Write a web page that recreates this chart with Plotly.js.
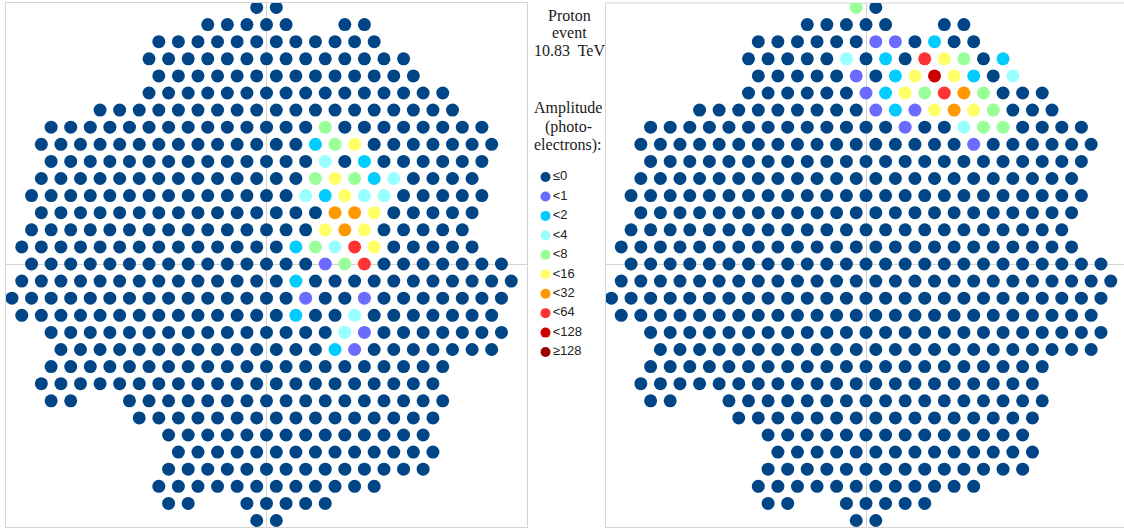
<!DOCTYPE html>
<html><head><meta charset="utf-8">
<script src="https://cdn.plot.ly/plotly-3.0.1.min.js"></script>
<style>html,body{margin:0;padding:0;background:#fff}</style>
</head><body><div id="chart" style="width:1124px;height:532px"></div>
<script>
// Camera layout: row y-index (top to bottom) and column segments (half-pixel units)
const rowY = [15,14,13,12,11,10,9,8,7,6,5,4,3,2,1,0,-1,-2,-3,-4,-5,-6,-7,-8,-9,-10,-11,-12,-13,-14,-15];
const rowSegments = [
  [[-1,1]],
  [[-6,2],[8,10]],
  [[-11,11]],
  [[-12,14]],
  [[-11,15]],
  [[-12,18]],
  [[-17,19]],
  [[-22,22]],
  [[-23,23]],
  [[-22,22]],
  [[-23,21]],
  [[-24,22]],
  [[-23,21]],
  [[-24,20]],
  [[-25,21]],
  [[-24,24]],
  [[-25,25]],
  [[-26,24]],
  [[-25,23]],
  [[-22,24]],
  [[-21,23]],
  [[-22,18]],
  [[-23,17]],
  [[-22,-20],[-14,18]],
  [[-13,17]],
  [[-10,16]],
  [[-9,17]],
  [[-10,16]],
  [[-11,11]],
  [[-10,-8],[-2,6]],
  [[-1,1]]
];

// Amplitude classes
const classLabels = ["\u22640","<1","<2","<4","<8","<16","<32","<64","<128","\u2265128"];
const classColors = ["#004687","#6b6bff","#00ccff","#99ffff","#99ff99","#ffff66","#ff9900","#ff3333","#cc0000","#990000"];

// Lit pixels, left camera
const leftLitY = [8, 7,7,7, 6,6, 5,5,5,5,5, 4,4,4,4,4, 3,3,3, 2,2,2, 1,1,1,1,1, 0,0,0, -1, -2,-2, -3,-3, -4,-4, -5,-5];
const leftLitC = [6, 5,7,9, 6,10, 5,7,9,11,13, 4,6,8,10,12, 7,9,11, 6,8,10, 3,5,7,9,11, 6,8,10, 3, 4,10, 3,9, 8,10, 7,9];
const leftLitClass = [4, 2,4,5, 3,2, 4,5,4,2,3, 3,2,5,3,3, 6,6,5, 5,6,5, 2,4,3,7,5, 1,4,7, 2, 1,1, 2,3, 3,1, 2,1];

// Lit pixels, right camera
const rightLitY = [15, 13,13,13, 12,12,12,12,12,12, 11,11,11,11,11,11,11, 10,10,10,10,10,10,10, 9,9,9,9,9,9,9, 8,8,8,8, 7];
const rightLitC = [-1, 1,3,7, -2,2,6,8,10,14, -1,3,5,7,9,11,15, 0,2,4,6,8,10,12, 1,3,5,7,9,11,13, 4,10,12,14, 11];
const rightLitClass = [4, 1,1,2, 3,2,7,5,4,2, 1,2,5,8,5,2,3, 1,2,5,4,7,6,4, 1,2,1,5,6,5,4, 1,3,4,4, 1];

const titleLines = ["Proton","event","10.83\u00a0 TeV"];
const legendTitleLines = ["Amplitude","(photo-","electrons):"];

function cameraTrace(litY, litC, litClass, xa, ya) {
  const lit = {};
  litY.forEach((y, i) => { lit[y + "_" + litC[i]] = litClass[i]; });
  const xs = [], ys = [], cs = [];
  rowY.forEach((y, r) => {
    rowSegments[r].forEach(seg => {
      for (let c = seg[0]; c <= seg[1]; c += 2) {
        xs.push(c); ys.push(y);
        const k = lit[y + "_" + c];
        cs.push(classColors[k === undefined ? 0 : k]);
      }
    });
  });
  return {type:"scatter", mode:"markers", x:xs, y:ys, xaxis:xa, yaxis:ya,
    marker:{size:13, color:cs, line:{width:0}}, hoverinfo:"skip", showlegend:false};
}

const legendTop = 177, legendStep = 19.45;
const legendTrace = {
  type:"scatter", mode:"markers+text", xaxis:"x3", yaxis:"y3",
  x: classLabels.map(() => 545.5),
  y: classLabels.map((_, i) => legendTop + i * legendStep),
  text: classLabels, textposition:"middle right",
  textfont:{family:"Liberation Sans, Arial, sans-serif", size:13, color:"#222"},
  marker:{size:10, color:classColors, line:{width:0}}, hoverinfo:"skip", showlegend:false, cliponaxis:false
};

const W = 1124, H = 532;
const axBase = {showgrid:false, zeroline:true, zerolinecolor:"#d4d4d4", zerolinewidth:1,
  showline:true, linecolor:"#d4d4d4", linewidth:1, showticklabels:false, ticks:"", fixedrange:true, layer:"below traces"};
const halfC = 9.79, rowPx = 17.1, yZeroPx = 264, topPx = 3, botPx = 527;
const yRange = [-(botPx - yZeroPx) / rowPx, (yZeroPx - topPx) / rowPx];

const annotations = [];
const titleYs = [15, 33, 51];
titleLines.forEach((t, i) => annotations.push({xref:"paper", yref:"paper", x:569/W, y:1 - titleYs[i]/H,
  xanchor:"center", yanchor:"middle", showarrow:false, text:t,
  font:{family:"Liberation Serif, Times New Roman, serif", size:16, color:"#1a1a1a"}}));
const legTitleYs = [108, 127, 145];
legendTitleLines.forEach((t, i) => annotations.push({xref:"paper", yref:"paper", x:568/W, y:1 - legTitleYs[i]/H,
  xanchor:"center", yanchor:"middle", showarrow:false, text:t,
  font:{family:"Liberation Serif, Times New Roman, serif", size:16, color:"#1a1a1a"}}));

const layout = {
  width:W, height:H, margin:{l:0, r:0, t:0, b:0}, paper_bgcolor:"#fff", plot_bgcolor:"#fff",
  showlegend:false,
  xaxis: Object.assign({}, axBase, {domain:[6/W, 527/W], range:[-260.5/halfC, 260.5/halfC], mirror:true}),
  yaxis: Object.assign({}, axBase, {domain:[(H-botPx)/H, (H-topPx)/H], range:yRange, mirror:true}),
  xaxis2: Object.assign({}, axBase, {domain:[606/W, 1], range:[-(866-606)/halfC, (W-866)/halfC], anchor:"y2"}),
  yaxis2: Object.assign({}, axBase, {domain:[(H-botPx)/H, (H-topPx)/H], range:yRange, anchor:"x2"}),
  xaxis3: {domain:[530/W, 606/W], range:[530, 606], visible:false, fixedrange:true, anchor:"y3"},
  yaxis3: {domain:[0, 1], range:[H, 0], visible:false, fixedrange:true, anchor:"x3"},
  shapes:[{type:"line", xref:"x2 domain", yref:"y2 domain", x0:0, x1:1, y0:1, y1:1, line:{color:"#d4d4d4", width:1}, layer:"below"}],
  annotations: annotations
};

Plotly.newPlot("chart", [
  cameraTrace(leftLitY, leftLitC, leftLitClass, "x", "y"),
  cameraTrace(rightLitY, rightLitC, rightLitClass, "x2", "y2"),
  legendTrace
], layout, {staticPlot:true, displayModeBar:false});
</script></body></html>
